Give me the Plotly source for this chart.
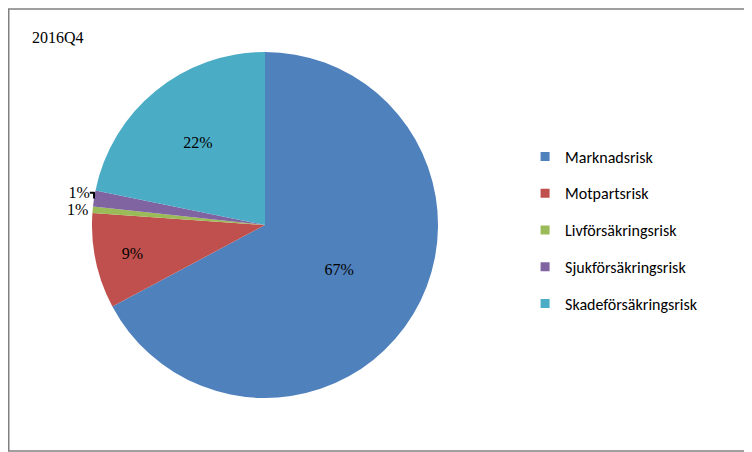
import plotly.graph_objects as go

labels = ["Marknadsrisk", "Motpartsrisk", "Livförsäkringsrisk", "Sjukförsäkringsrisk", "Skadeförsäkringsrisk"]
values = [67.2, 8.9, 0.6, 1.5, 21.8]
text_labels = ["67%", "9%", "1%", "1%", "22%"]
colors = ["#4F81BD", "#C0504D", "#9BBB59", "#8064A2", "#4BACC6"]

# page has an 8px body margin, so work in figure coords
W, H = 744, 444
cx, cy, r = 257, 217, 173

fig = go.Figure(go.Pie(
    labels=labels, values=values, text=text_labels, textinfo="text",
    sort=False, direction="clockwise", rotation=0, showlegend=False,
    marker=dict(colors=colors, line=dict(color="white", width=0)),
    textposition=["inside", "inside", "outside", "outside", "inside"],
    insidetextorientation="horizontal",
    textfont=dict(family="Liberation Serif", size=16, color="black"),
    domain=dict(x=[(cx - r) / W, (cx + r) / W], y=[1 - (cy + r) / H, 1 - (cy - r) / H]),
    hoverinfo="label+percent",
))

# legend entries as separate groups so the spacing can be widened
for name, c in zip(labels, colors):
    fig.add_trace(go.Scatter(x=[None], y=[None], mode="markers", name=name, legendgroup=name,
                             marker=dict(symbol="square", size=9, color=c)))

fig.update_layout(
    width=W, height=H, margin=dict(l=0, r=0, t=0, b=0),
    paper_bgcolor="white", plot_bgcolor="white",
    xaxis=dict(visible=False), yaxis=dict(visible=False),
    legend=dict(x=0.695, y=0.5, xanchor="left", yanchor="middle",
                font=dict(family="Carlito, Lato, sans-serif", size=16, color="black"),
                tracegroupgap=13, itemwidth=30),
    annotations=[dict(text="2016Q4", x=22 / W, y=1 - 30 / H, xref="paper", yref="paper",
                      xanchor="left", yanchor="middle", showarrow=False,
                      font=dict(family="Liberation Serif", size=16, color="black"))],
    shapes=[dict(type="rect", xref="paper", yref="paper", x0=0.001, y0=0.002, x1=0.999, y1=0.998,
                 line=dict(color="#808080", width=1.5))],
)

fig.write_html("out.html")
